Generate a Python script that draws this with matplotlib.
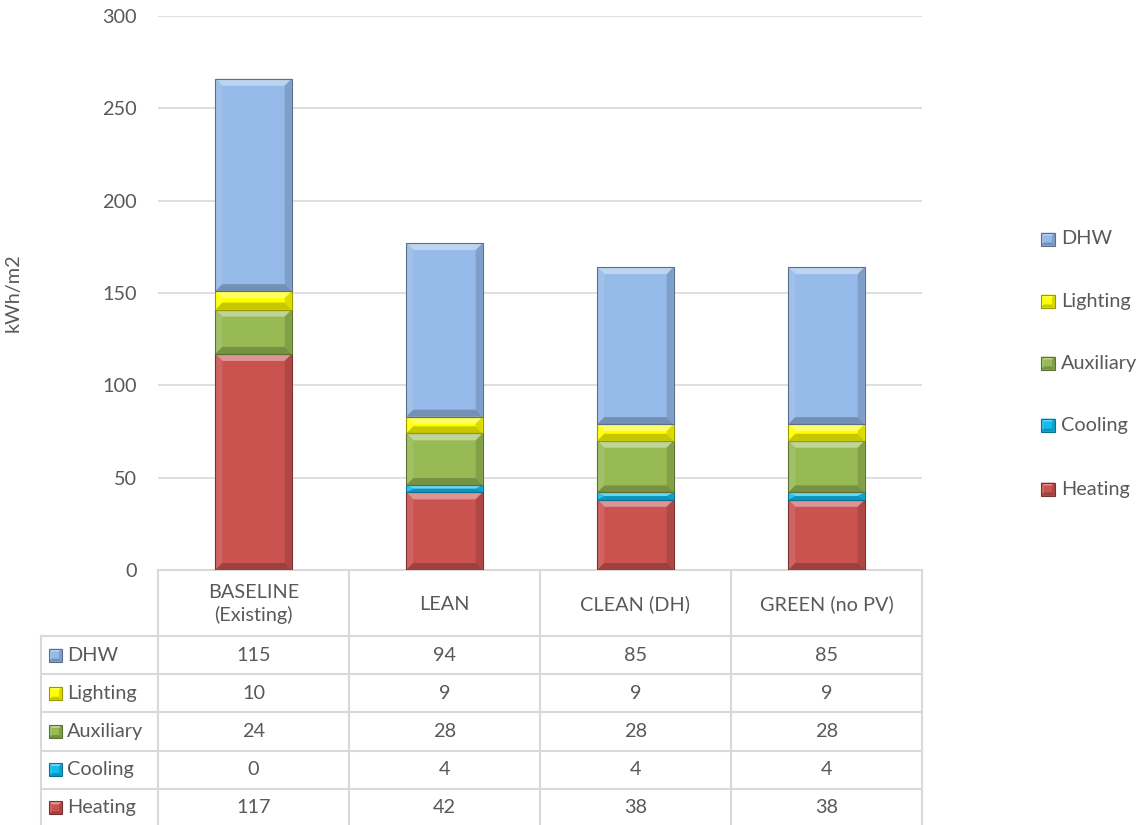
import matplotlib
matplotlib.use("Agg")
import matplotlib.pyplot as plt
from matplotlib.patches import Polygon, Rectangle
from matplotlib.lines import Line2D
import numpy as np

plt.rcParams['font.family'] = ['Lato', 'DejaVu Sans']

# ---- data ----
categories = ["BASELINE\n(Existing)", "LEAN", "CLEAN (DH)", "GREEN (no PV)"]
series_names = ["Heating", "Cooling", "Auxiliary", "Lighting", "DHW"]
heating = [117, 42, 38, 38]
cooling = [0, 4, 4, 4]
auxiliary = [24, 28, 28, 28]
lighting = [10, 9, 9, 9]
dhw = [115, 94, 85, 85]
series_values = [heating, cooling, auxiliary, lighting, dhw]
series_colors = ["#CA5350", "#12BCEE", "#98BA55", "#FFFF00", "#95B9E8"]
y_ticks = [0, 50, 100, 150, 200, 250, 300]

W, H = 1145, 825
DPI = 100
TXT = "#595959"
GRID = "#D9D9D9"
FS = 14.3

fig = plt.figure(figsize=(W / DPI, H / DPI), dpi=DPI)

# overlay in pixel coordinates for table, legend and labels
ov = fig.add_axes([0, 0, 1, 1], zorder=0)
ov.set_xlim(0, W)
ov.set_ylim(H, 0)
ov.axis("off")

# plot area (pixels)
px0, px1 = 158, 922
py_top, py_bot = 16, 570
ax = fig.add_axes([px0 / W, 1 - py_bot / H, (px1 - px0) / W, (py_bot - py_top) / H], zorder=1)
ax.patch.set_alpha(0)
n = len(categories)
ax.set_xlim(-0.5, n - 0.5)
ax.set_ylim(0, 300)
for s in ax.spines.values():
    s.set_visible(False)
ax.set_xticks([])
ax.set_yticks(y_ticks)
ax.tick_params(axis="y", length=0, pad=15.5, labelsize=FS, labelcolor=TXT)
for v in y_ticks[1:]:
    ax.axhline(v, color=GRID, lw=1.2, zorder=0)

ov.text(13, 293, "kWh/m2", rotation=90, ha="center", va="center",
        fontsize=FS, color=TXT)

# pixel -> data scale factors
ppx = (px1 - px0) / n          # pixels per x unit
ppy = (py_bot - py_top) / 300  # pixels per y unit


def shade(c, f):
    c = np.array(matplotlib.colors.to_rgb(c))
    if f >= 0:
        return tuple(c + (1 - c) * f)
    return tuple(c * (1 + f))


def bevel(axis, x0, y0, w, h, color, bpx=7, to_px=(1.0, 1.0), z=3, flip=False):
    """Draw a rectangle with a soft bevelled edge (light top, dark bottom)."""
    sx, sy = to_px
    bw = min(bpx / sx, w / 2.0)
    bh = min(bpx / sy, h / 2.0)
    x1, y1 = x0 + w, y0 + h
    # in a y-inverted axis the visual top is the smaller y value
    top, bot, d = (y0, y1, -1) if flip else (y1, y0, 1)
    axis.add_patch(Rectangle((x0, y0), w, h, facecolor=color, edgecolor="none", zorder=z))
    faces = [
        ([(x0, top), (x1, top), (x1 - bw, top - d * bh), (x0 + bw, top - d * bh)], shade(color, 0.38)),
        ([(x0, bot), (x0, top), (x0 + bw, top - d * bh), (x0 + bw, bot + d * bh)], shade(color, 0.10)),
        ([(x1, bot), (x1, top), (x1 - bw, top - d * bh), (x1 - bw, bot + d * bh)], shade(color, -0.14)),
        ([(x0, bot), (x1, bot), (x1 - bw, bot + d * bh), (x0 + bw, bot + d * bh)], shade(color, -0.22)),
    ]
    for pts, fc in faces:
        axis.add_patch(Polygon(pts, closed=True, facecolor=fc, edgecolor="none", zorder=z + 0.1))
    axis.add_patch(Rectangle((x0, y0), w, h, facecolor="none",
                             edgecolor=shade(color, -0.4), lw=0.8, zorder=z + 0.2))


# stacked bars
bar_w = 0.4
x = np.arange(n)
bottom = np.zeros(n)
for vals, col in zip(series_values, series_colors):
    bars = ax.bar(x, vals, bar_w, bottom=bottom, color="none", edgecolor="none")
    for b in bars:
        if b.get_height() <= 0:
            continue
        bevel(ax, b.get_x(), b.get_y(), b.get_width(), b.get_height(), col,
              bpx=7, to_px=(ppx, ppy))
    bottom += np.array(vals)

# ---- data table ----
col_x = [px0 + i * (px1 - px0) / n for i in range(n + 1)]
left_x = 41
hdr_top, hdr_bot = 570, 636
row_h = 38.2
row_tops = [hdr_bot + i * row_h for i in range(len(series_names) + 1)]
tlw = 1.5
for cx in col_x:
    ov.add_line(Line2D([cx, cx], [hdr_top, row_tops[-1]], color=GRID, lw=tlw))
ov.add_line(Line2D([left_x, left_x], [hdr_bot, row_tops[-1]], color=GRID, lw=tlw))
ov.add_line(Line2D([px0, px1], [hdr_top, hdr_top], color=GRID, lw=tlw))
for ry in row_tops:
    ov.add_line(Line2D([left_x, px1], [ry, ry], color=GRID, lw=tlw))

for i, c in enumerate(categories):
    cx = (col_x[i] + col_x[i + 1]) / 2
    ov.text(cx, (hdr_top + hdr_bot) / 2 + 1, c, ha="center", va="center",
            fontsize=FS, color=TXT, linespacing=1.3)

table_order = list(range(len(series_names)))[::-1]  # DHW first
for r, si in enumerate(table_order):
    cy = row_tops[r] + row_h / 2
    bevel(ov, 49, cy - 6.5, 13, 13, series_colors[si], bpx=3, z=3, flip=True)
    ov.text(67, cy, series_names[si], ha="left", va="center", fontsize=FS, color=TXT)
    for i in range(n):
        cx = (col_x[i] + col_x[i + 1]) / 2
        ov.text(cx, cy, f"{series_values[si][i]:g}", ha="center", va="center",
                fontsize=FS, color=TXT)

# ---- legend ----
leg_y = [239, 301, 363, 425, 489]
for yy, si in zip(leg_y, table_order):
    bevel(ov, 1041, yy - 6.5, 14, 13, series_colors[si], bpx=3, z=3, flip=True)
    ov.text(1061, yy, series_names[si], ha="left", va="center", fontsize=FS, color=TXT)

fig.savefig("out.png", dpi=DPI)
